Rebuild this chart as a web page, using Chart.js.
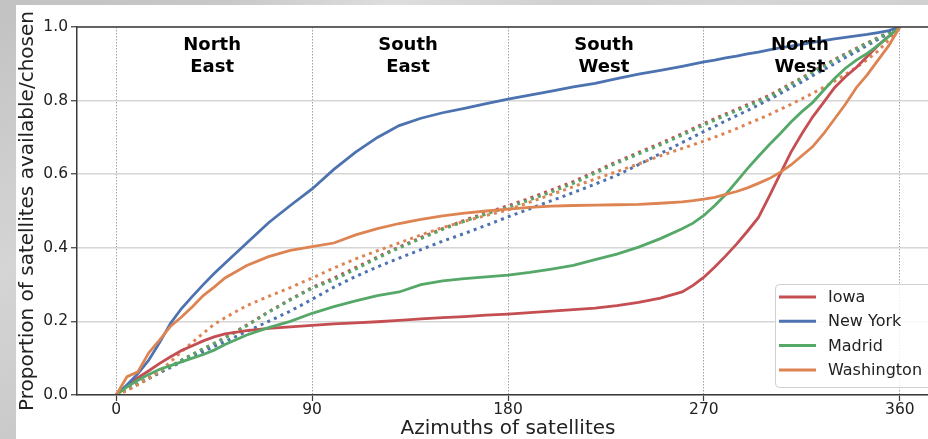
<!DOCTYPE html>
<html>
<head>
<meta charset="utf-8">
<script src="https://cdn.jsdelivr.net/npm/chart.js@4.4.1/dist/chart.umd.min.js"></script>
<style>
  html, body { margin: 0; padding: 0; width: 928px; height: 439px; overflow: hidden; }
  body {
    background:
      linear-gradient(115deg, rgba(255,255,255,0) 20%, rgba(255,255,255,0.35) 35%, rgba(255,255,255,0) 50%),
      linear-gradient(160deg, #c2c2c2 0%, #d5d5d5 35%, #c6c6c6 65%, #d2d2d2 100%);
  }
  #wrap { position: absolute; left: 16px; top: 5px; width: 960px; height: 434px; background: #ffffff; }
  canvas { display: block; }
</style>
</head>
<body>
<div id="wrap"><canvas id="chart" width="960" height="434"></canvas></div>
<script>
// Azimuth samples (degrees) shared by every curve
const azimuths = [0, 5, 10, 15, 20, 25, 30, 35, 40, 45, 50,
  60, 70, 80, 90, 100, 110, 120, 130, 140, 150, 160, 170, 180, 190, 200, 210, 220, 230, 240, 250, 260,
  265, 270, 275, 280, 285, 290, 295, 300, 305, 310, 315, 320, 325, 330, 335, 340, 345, 350, 355, 360];

// Cumulative proportion of chosen satellites (solid lines)
const iowaChosen = [0, 0.025, 0.047, 0.066, 0.086, 0.104, 0.121, 0.134, 0.147, 0.158, 0.166,
  0.175, 0.181, 0.185, 0.189, 0.193, 0.196, 0.199, 0.203, 0.207, 0.21, 0.213, 0.217, 0.22, 0.224, 0.228, 0.232, 0.236, 0.243, 0.252, 0.263, 0.28,
  0.298, 0.32, 0.348, 0.378, 0.41, 0.445, 0.482, 0.54, 0.6, 0.66, 0.71, 0.756, 0.795, 0.835, 0.865, 0.89, 0.92, 0.95, 0.975, 1.0];
const newYorkChosen = [0, 0.028, 0.058, 0.095, 0.143, 0.195, 0.235, 0.268, 0.3, 0.33, 0.358,
  0.413, 0.468, 0.515, 0.56, 0.613, 0.66, 0.7, 0.732, 0.752, 0.767, 0.779, 0.792, 0.804, 0.815, 0.826, 0.837, 0.847, 0.86, 0.872, 0.882, 0.893,
  0.899, 0.905, 0.91, 0.916, 0.921, 0.927, 0.932, 0.938, 0.943, 0.948, 0.953, 0.958, 0.963, 0.968, 0.972, 0.976, 0.98, 0.985, 0.99, 1.0];
const madridChosen = [0, 0.022, 0.04, 0.056, 0.07, 0.08, 0.09, 0.1, 0.11, 0.122, 0.137,
  0.163, 0.183, 0.2, 0.222, 0.24, 0.256, 0.27, 0.28, 0.3, 0.31, 0.316, 0.321, 0.326, 0.333, 0.342, 0.352, 0.368, 0.383, 0.402, 0.425, 0.452,
  0.467, 0.488, 0.515, 0.545, 0.58, 0.615, 0.648, 0.68, 0.71, 0.742, 0.77, 0.795, 0.828, 0.86, 0.888, 0.91, 0.928, 0.95, 0.975, 1.0];
const washingtonChosen = [0, 0.05, 0.063, 0.115, 0.15, 0.187, 0.212, 0.24, 0.27, 0.293, 0.318,
  0.352, 0.376, 0.393, 0.403, 0.413, 0.435, 0.452, 0.466, 0.477, 0.487, 0.494, 0.5, 0.505, 0.51, 0.513, 0.515, 0.516, 0.517, 0.518, 0.521, 0.525,
  0.528, 0.532, 0.537, 0.545, 0.553, 0.563, 0.575, 0.588, 0.605, 0.625, 0.65, 0.675, 0.71, 0.75, 0.79, 0.835, 0.87, 0.91, 0.95, 1.0];

// Cumulative proportion of available satellites (dotted lines)
const iowaAvailable = [0, 0.015, 0.03, 0.046, 0.062, 0.078, 0.094, 0.11, 0.125, 0.14, 0.156,
  0.19, 0.226, 0.26, 0.292, 0.318, 0.346, 0.375, 0.402, 0.428, 0.452, 0.475, 0.495, 0.514, 0.535, 0.557, 0.58, 0.607, 0.634, 0.659, 0.684, 0.71,
  0.724, 0.738, 0.751, 0.764, 0.776, 0.789, 0.801, 0.814, 0.83, 0.846, 0.862, 0.879, 0.895, 0.912, 0.927, 0.942, 0.957, 0.971, 0.986, 1.0];
const newYorkAvailable = [0, 0.015, 0.03, 0.045, 0.06, 0.075, 0.09, 0.104, 0.118, 0.132, 0.145,
  0.173, 0.2, 0.228, 0.26, 0.293, 0.322, 0.348, 0.372, 0.395, 0.418, 0.439, 0.461, 0.484, 0.506, 0.528, 0.55, 0.573, 0.597, 0.626, 0.656, 0.686,
  0.701, 0.716, 0.73, 0.745, 0.759, 0.773, 0.788, 0.803, 0.819, 0.835, 0.851, 0.868, 0.884, 0.9, 0.917, 0.933, 0.95, 0.966, 0.983, 1.0];
const madridAvailable = [0, 0.015, 0.03, 0.046, 0.062, 0.078, 0.095, 0.11, 0.126, 0.14, 0.155,
  0.188, 0.225, 0.258, 0.29, 0.313, 0.342, 0.372, 0.4, 0.425, 0.45, 0.472, 0.492, 0.51, 0.53, 0.552, 0.575, 0.603, 0.63, 0.655, 0.68, 0.706,
  0.72, 0.734, 0.747, 0.76, 0.772, 0.785, 0.797, 0.81, 0.827, 0.843, 0.86, 0.877, 0.893, 0.91, 0.925, 0.94, 0.955, 0.97, 0.985, 1.0];
const washingtonAvailable = [0, 0.012, 0.028, 0.045, 0.065, 0.09, 0.118, 0.143, 0.168, 0.192, 0.21,
  0.243, 0.268, 0.292, 0.318, 0.345, 0.37, 0.392, 0.413, 0.435, 0.455, 0.472, 0.488, 0.503, 0.524, 0.545, 0.566, 0.587, 0.607, 0.628, 0.65, 0.67,
  0.68, 0.69, 0.701, 0.712, 0.724, 0.737, 0.749, 0.762, 0.776, 0.79, 0.805, 0.82, 0.836, 0.853, 0.871, 0.89, 0.911, 0.935, 0.965, 1.0];

const cities = ['Iowa', 'New York', 'Madrid', 'Washington'];
const chosenSeries = [iowaChosen, newYorkChosen, madridChosen, washingtonChosen];
const availableSeries = [iowaAvailable, newYorkAvailable, madridAvailable, washingtonAvailable];
const cityColors = ['#C44E52', '#4C72B0', '#55A868', '#DD8452'];

const xTicks = [0, 90, 180, 270, 360];
const yTicks = [0, 0.2, 0.4, 0.6, 0.8, 1.0];
const regionLabels = [['North', 'East'], ['South', 'East'], ['South', 'West'], ['North', 'West']];
const regionCenters = [45, 135, 225, 315];

const FONT = '"DejaVu Sans", "Liberation Sans", sans-serif';
const SPINE = '#3a3a3a';

const toPoints = vals => azimuths.map((a, i) => ({ x: a, y: vals[i] }));

const datasets = [];
cities.forEach((city, i) => {
  datasets.push({
    label: city + ' available',
    data: toPoints(availableSeries[i]),
    borderColor: cityColors[i],
    borderWidth: 3,
    borderDash: [3, 4.3],
    borderCapStyle: 'butt',
    pointRadius: 0,
    fill: false,
    tension: 0
  });
});
cities.forEach((city, i) => {
  datasets.push({
    label: city,
    data: toPoints(chosenSeries[i]),
    borderColor: cityColors[i],
    borderWidth: 2.8,
    pointRadius: 0,
    fill: false,
    tension: 0,
    showInKey: true
  });
});
// later datasets are painted on top
datasets.forEach((d, i) => { d.order = datasets.length - i; });

// Top frame line and compass-sector captions
const framePlugin = {
  id: 'frameAndSectors',
  afterDatasetsDraw(chart) {
    const { ctx, chartArea, scales: { x } } = chart;
    ctx.save();
    ctx.strokeStyle = SPINE;
    ctx.lineWidth = 1.5;
    ctx.beginPath();
    ctx.moveTo(chartArea.left, chartArea.top);
    ctx.lineTo(chartArea.right, chartArea.top);
    ctx.stroke();

    ctx.font = 'bold 18px ' + FONT;
    ctx.fillStyle = '#000';
    ctx.textAlign = 'center';
    ctx.textBaseline = 'alphabetic';
    regionLabels.forEach((lines, i) => {
      const px = x.getPixelForValue(regionCenters[i]) - 2;
      lines.forEach((t, j) => ctx.fillText(t, px, chartArea.top + 23 + j * 21.7));
    });
    ctx.restore();
  }
};

// Key for the solid (chosen) curves
const keyPlugin = {
  id: 'cityKey',
  afterDraw(chart) {
    const { ctx } = chart;
    const items = chart.data.datasets.filter(d => d.showInKey);
    const bx = 759, by = 279, bw = 160, bh = 103;
    ctx.save();
    ctx.beginPath();
    ctx.roundRect(bx + 0.5, by + 0.5, bw, bh, 4);
    ctx.fillStyle = 'rgba(255,255,255,0.85)';
    ctx.fill();
    ctx.strokeStyle = '#d0d0d0';
    ctx.lineWidth = 1;
    ctx.stroke();
    ctx.font = '16px ' + FONT;
    ctx.textBaseline = 'middle';
    ctx.textAlign = 'left';
    items.forEach((d, i) => {
      const y = by + 13 + i * 24.3;
      ctx.strokeStyle = d.borderColor;
      ctx.lineWidth = 3;
      ctx.beginPath();
      ctx.moveTo(bx + 4, y);
      ctx.lineTo(bx + 41, y);
      ctx.stroke();
      ctx.fillStyle = '#222';
      ctx.fillText(d.label, bx + 53, y + 1);
    });
    ctx.restore();
  }
};

new Chart(document.getElementById('chart'), {
  type: 'line',
  data: { datasets },
  plugins: [framePlugin, keyPlugin],
  options: {
    responsive: false,
    animation: false,
    devicePixelRatio: 1,
    layout: { padding: { left: 0, top: 22, right: 37, bottom: 0 } },
    plugins: { legend: { display: false }, tooltip: { enabled: false } },
    scales: {
      x: {
        type: 'linear',
        min: -18,
        max: 378,
        afterBuildTicks: s => { s.ticks = xTicks.map(v => ({ value: v })); },
        afterFit: s => { s.height = 44; },
        ticks: { font: { family: FONT, size: 15.5 }, color: '#222', padding: 0, maxRotation: 0, autoSkip: false },
        grid: { color: '#a0a0a0', lineWidth: 1, tickLength: 6, tickColor: SPINE, tickWidth: 1.2 },
        border: { display: true, color: SPINE, width: 1.5, dash: [1.5, 1.5], z: 1 },
        title: { display: true, text: 'Azimuths of satellites', font: { family: FONT, size: 20, lineHeight: 1 }, color: '#222', padding: { top: 0, bottom: 0 } }
      },
      y: {
        type: 'linear',
        min: 0,
        max: 1,
        afterBuildTicks: s => { s.ticks = yTicks.map(v => ({ value: v })); },
        afterFit: s => { s.width = 61; },
        ticks: { font: { family: FONT, size: 15.5 }, color: '#222', padding: 3, callback: v => Number(v).toFixed(1) },
        grid: { color: '#d6d6d6', lineWidth: 1.5, tickLength: 6, tickColor: SPINE, tickWidth: 1.2 },
        border: { display: true, color: SPINE, width: 1.5, z: 1 },
        title: { display: true, text: 'Proportion of satellites available/chosen', font: { family: FONT, size: 20, lineHeight: 1 }, color: '#222', padding: { top: 2, bottom: 0 } }
      }
    }
  }
});
</script>
</body>
</html>
